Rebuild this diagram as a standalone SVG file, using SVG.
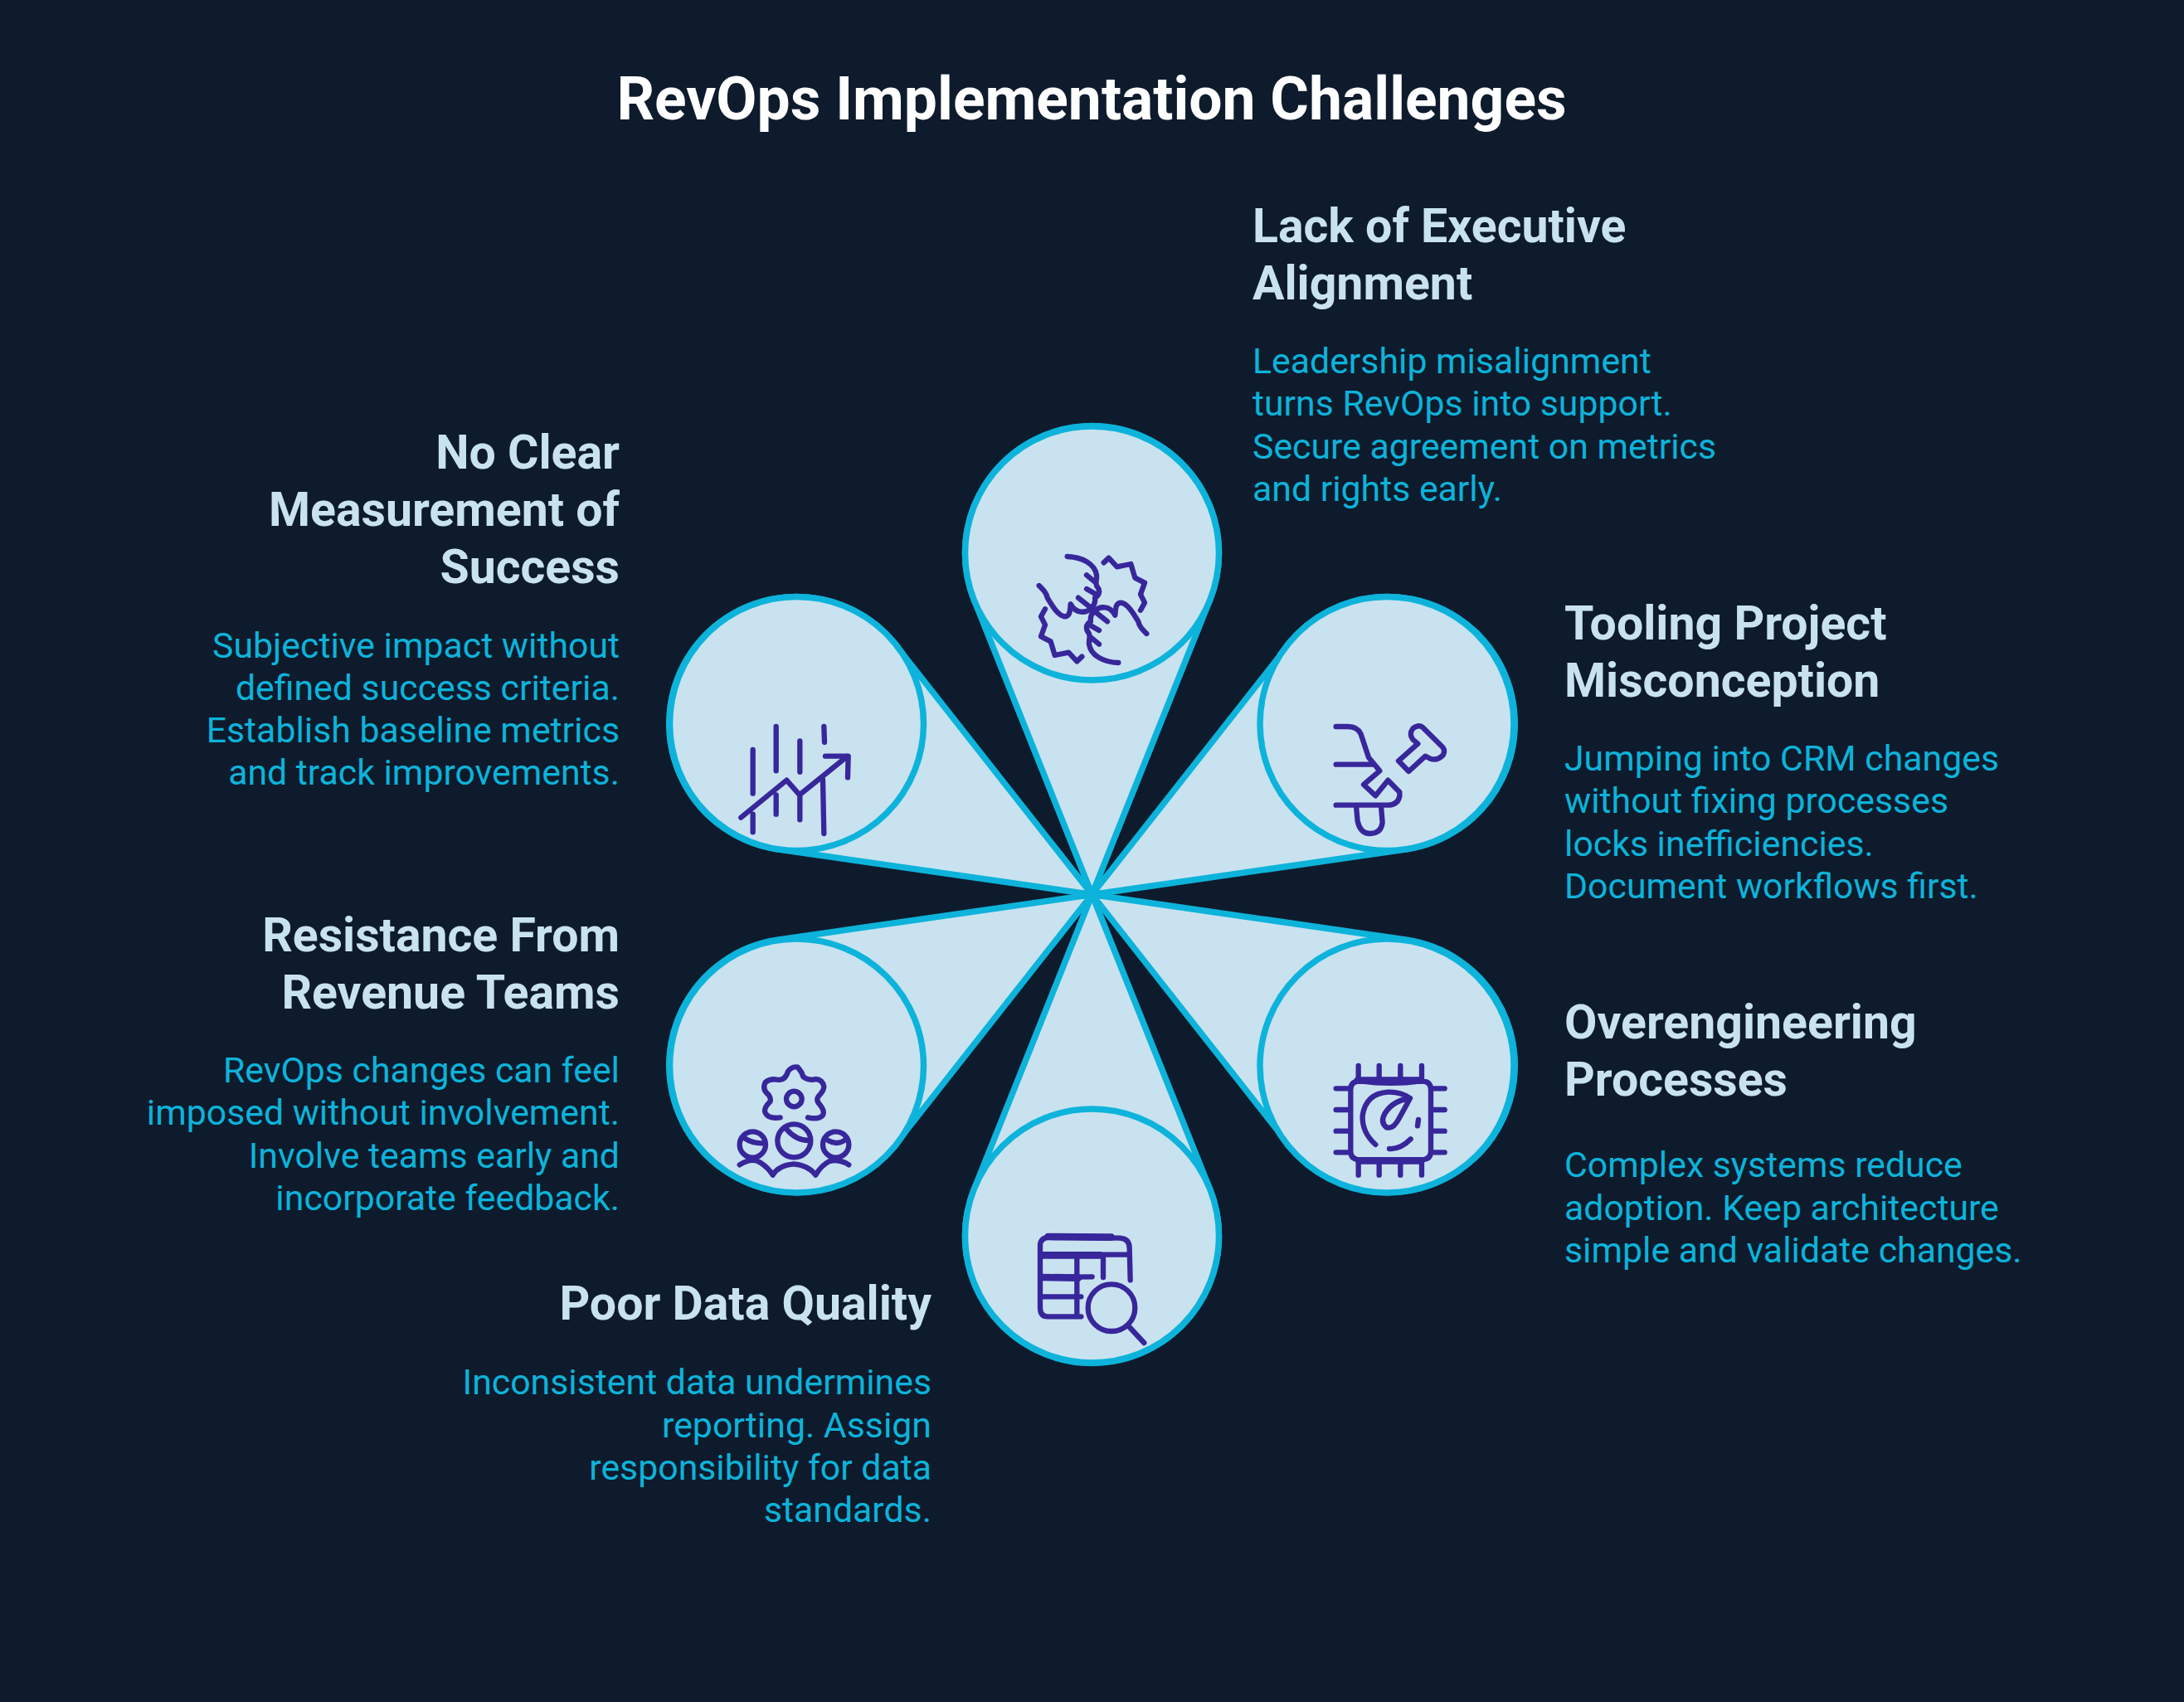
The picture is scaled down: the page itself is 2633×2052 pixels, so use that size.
<svg xmlns="http://www.w3.org/2000/svg" xmlns:xlink="http://www.w3.org/1999/xlink" width="2633" height="2052" viewBox="0 0 2633 2052">
<style>
text{font-family:Roboto,"Liberation Sans",sans-serif}
.t{font-size:71.4px;font-weight:700;fill:#fff;text-anchor:middle}
.h{font-size:57.2px;font-weight:700;fill:#c9e2f0}
.b{font-size:42.8px;font-weight:400;fill:#0db3da}
.e{text-anchor:end}
.p{fill:#c9e2f0;stroke:#0db3da;stroke-width:7.5;stroke-linejoin:round}
.c{fill:#c9e2f0;stroke:#0db3da;stroke-width:7.5}
.i{fill:none;stroke:#38269b;stroke-width:19;stroke-linecap:round;stroke-linejoin:round}
.w{stroke-width:26}
</style>
<rect width="2633" height="2052" fill="#0d1b2c"/>
<text class="t" x="1316" y="144">RevOps Implementation Challenges</text>
<g id="connectors">
<path id="petal-top" class="p" d="M1316.5 1078.5L1174.6 723.8A153 153 0 1 1 1458.4 723.8Z"/>
<path id="petal-tr" class="p" d="M1316.5 1078.5L1552.7 778.3A153 153 0 1 1 1694.6 1024Z"/>
<path id="petal-br" class="p" d="M1316.5 1078.5L1694.6 1133A153 153 0 1 1 1552.7 1378.7Z"/>
<path id="petal-bottom" class="p" d="M1316.5 1078.5L1458.4 1433.2A153 153 0 1 1 1174.6 1433.2Z"/>
<path id="petal-bl" class="p" d="M1316.5 1078.5L1080.3 1378.7A153 153 0 1 1 938.4 1133Z"/>
<path id="petal-tl" class="p" d="M1316.5 1078.5L938.4 1024A153 153 0 1 1 1080.3 778.3Z"/>
</g>
<g id="node-top">
<circle class="c" cx="1316.5" cy="667" r="153"/>
<g transform="translate(1120 480) scale(.33333)" class="i">
<g id="hand"><path d="M500 573C555 575 600 600 606 640C608 660 600 665 607 680C620 695 618 712 600 722C605 750 580 775 550 773C530 772 520 760 512 745C510 770 510 790 490 790C465 785 445 750 428 722C425 705 415 695 398 678M570 640L600 665M570 690L608 712M540 722L578 752"/><path d="M632 595L650 578L680 610L730 600L745 650L780 668L765 710L780 740L765 767"/></g>
<use xlink:href="#hand" href="#hand" transform="rotate(180 592.5 765)"/>
</g>
<text class="h" x="1510" y="292">Lack of Executive</text><text class="h" x="1510" y="361">Alignment</text>
<text class="b" x="1510" y="450">Leadership misalignment</text><text class="b" x="1510" y="501">turns RevOps into support.</text><text class="b" x="1510" y="553">Secure agreement on metrics</text><text class="b" x="1510" y="604">and rights early.</text>
</g>
<g id="node-tooling">
<circle class="c" cx="1672" cy="872.5" r="153"/>
<g transform="translate(1480 690) scale(.33333)" class="i">
<path d="M392 558L435 558Q470 558 482 585L510 670L550 718L492 768L535 808L580 752L622 795L622 810Q615 842 580 842L392 842M392 695L525 695M465 845L470 900Q480 945 515 945Q555 945 560 905L555 845M618 682L655 720L715 665L735 675Q760 682 780 660Q790 640 770 625L705 560Q690 550 670 565Q655 585 670 605L688 620Z"/>
</g>
<text class="h" x="1886" y="771">Tooling Project</text><text class="h" x="1886" y="840">Misconception</text>
<text class="b" x="1886" y="929">Jumping into CRM changes</text><text class="b" x="1886" y="980">without fixing processes</text><text class="b" x="1886" y="1032">locks inefficiencies.</text><text class="b" x="1886" y="1083">Document workflows first.</text>
</g>
<g id="node-over">
<circle class="c" cx="1672" cy="1285" r="153"/>
<g transform="translate(1480 1100) scale(.33333)" class="i">
<path d="M445 640Q445 610 480 610Q590 625 700 610Q735 610 735 640L735 865Q735 895 700 895L480 895Q445 895 445 865ZM473 555L473 600M548 555L548 600M625 555L625 600M702 555L702 600M473 905L473 950M548 905L548 950M625 905L625 950M702 905L702 950M392 637L440 637M392 714L440 714M392 791L440 791M392 868L440 868M740 637L785 637M740 714L785 714M740 791L785 791M740 868L785 868M535 840Q485 795 488 735Q500 655 580 650Q625 648 660 672Q600 680 570 725Q550 760 575 778Q600 785 620 745Q640 710 660 672M690 750L687 772M585 855Q625 858 662 820"/>
<path class="w" d="M470 608L700 608M475 898L700 898"/>
</g>
<text class="h" x="1886" y="1252">Overengineering</text><text class="h" x="1886" y="1321">Processes</text>
<text class="b" x="1886" y="1419">Complex systems reduce</text><text class="b" x="1886" y="1471">adoption. Keep architecture</text><text class="b" x="1886" y="1522">simple and validate changes.</text>
</g>
<g id="node-data">
<circle class="c" cx="1316.5" cy="1490" r="153"/>
<g transform="translate(1140 1320) scale(.33333)" class="i">
<path d="M490 802L370 802Q342 802 342 770L342 545Q342 515 380 515L630 518Q665 520 665 555L668 670M345 578L660 578M475 580L475 800M570 580L570 660M350 660L530 658M350 730L490 730M665 840L718 897"/><circle cx="600" cy="770" r="85"/>
<path class="w" d="M370 513L600 515M350 580L560 580M350 660L480 662"/>
</g>
<text class="h e" x="1123" y="1591">Poor Data Quality</text>
<text class="b e" x="1123" y="1681">Inconsistent data undermines</text><text class="b e" x="1123" y="1733">reporting. Assign</text><text class="b e" x="1123" y="1784">responsibility for data</text><text class="b e" x="1123" y="1835">standards.</text>
</g>
<g id="node-resist">
<circle class="c" cx="960.5" cy="1285" r="153"/>
<g transform="translate(780 1100) scale(.33333)" class="i">
<path d="M482 742Q440 748 428 725Q420 710 445 685Q450 675 440 660Q415 640 428 615Q445 600 470 605Q500 610 510 575Q525 555 545 560Q560 575 565 595Q585 610 610 603Q635 605 640 630Q640 645 620 665Q610 680 625 695Q645 720 635 735Q620 750 582 742M355 818Q380 835 415 835M505 785Q540 825 585 825M655 825Q690 845 720 820M335 913Q380 885 410 905Q440 925 455 950Q475 915 530 910Q585 915 610 950Q630 915 660 900Q695 890 730 913"/><circle cx="532" cy="675" r="28"/><circle cx="382" cy="840" r="47"/><circle cx="532" cy="826" r="60"/><circle cx="683" cy="840" r="47"/>
</g>
<text class="h e" x="747" y="1147">Resistance From</text><text class="h e" x="747" y="1216">Revenue Teams</text>
<text class="b e" x="747" y="1305">RevOps changes can feel</text><text class="b e" x="747" y="1356">imposed without involvement.</text><text class="b e" x="747" y="1408">Involve teams early and</text><text class="b e" x="747" y="1459">incorporate feedback.</text>
</g>
<g id="node-measure">
<circle class="c" cx="960.5" cy="872.5" r="153"/>
<g transform="translate(780 700) scale(.33333)" class="i">
<path d="M383 612L383 770M467 528L467 688M553 580L553 692M640 528L642 585M383 845L383 910M467 775L467 845M553 775L553 865M636 720L640 915M340 857L505 722L552 775L725 635M645 635L728 635L726 712"/>
</g>
<text class="h e" x="747" y="565">No Clear</text><text class="h e" x="747" y="634">Measurement of</text><text class="h e" x="747" y="703">Success</text>
<text class="b e" x="747" y="793">Subjective impact without</text><text class="b e" x="747" y="844">defined success criteria.</text><text class="b e" x="747" y="895">Establish baseline metrics</text><text class="b e" x="747" y="946">and track improvements.</text>
</g>
</svg>
